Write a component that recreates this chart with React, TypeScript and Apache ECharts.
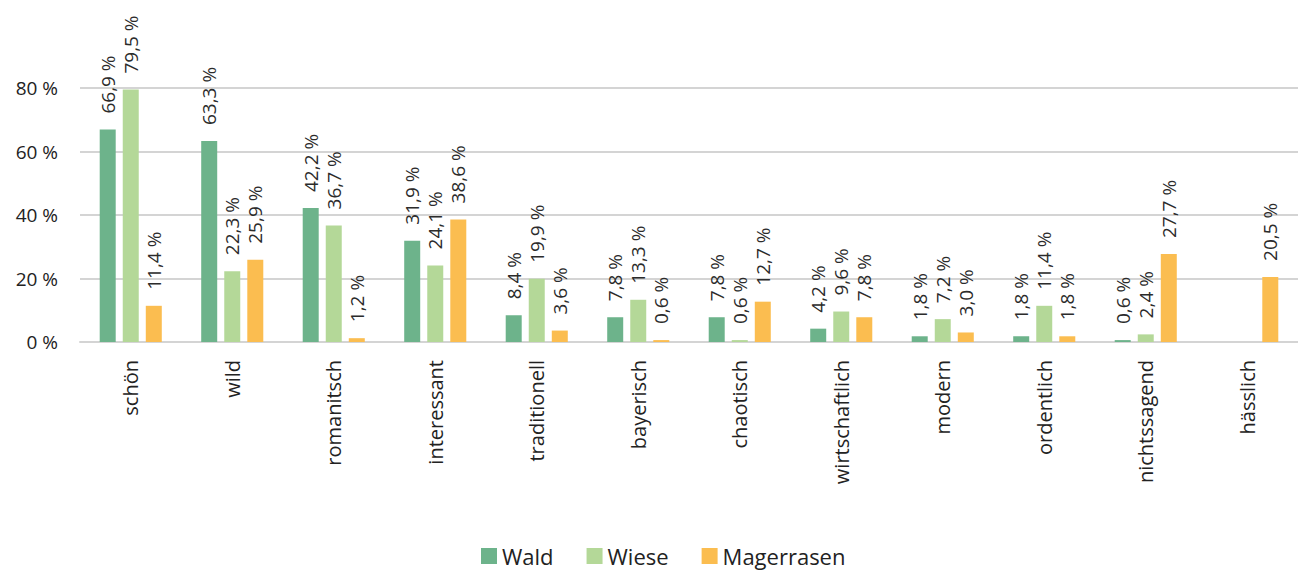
import React, { useEffect, useRef } from "react";
import * as echarts from "echarts";

const categories = [
  "schön", "wild", "romanitsch", "interessant", "traditionell", "bayerisch",
  "chaotisch", "wirtschaftlich", "modern", "ordentlich", "nichtssagend", "hässlich",
];
const wald = [66.9, 63.3, 42.2, 31.9, 8.4, 7.8, 7.8, 4.2, 1.8, 1.8, 0.6, null];
const wiese = [79.5, 22.3, 36.7, 24.1, 19.9, 13.3, 0.6, 9.6, 7.2, 11.4, 2.4, null];
const magerrasen = [11.4, 25.9, 1.2, 38.6, 3.6, 0.6, 12.7, 7.8, 3.0, 1.8, 27.7, 20.5];
const yTicks = [0, 20, 40, 60, 80];

const FONT = "'Open Sans', 'Noto Sans', sans-serif";

const fmt = (v: number) => v.toFixed(1).replace(".", ",") + " %";

export default function App() {
  const ref = useRef<HTMLDivElement>(null);
  useEffect(() => {
    if (!ref.current) return;
    const chart = echarts.init(ref.current, null, { renderer: "svg" });
    const mkSeries = (name: string, data: (number | null)[], color: string) => ({
      name,
      type: "bar",
      data,
      barWidth: 16,
      barGap: "44%",
      itemStyle: { color },
      label: {
        show: true,
        position: "top",
        rotate: 90,
        align: "left",
        verticalAlign: "middle",
        distance: 16,
        fontFamily: FONT,
        fontSize: 19,
        color: "#2b2b2b",
        formatter: (p: any) => (p.value == null ? "" : fmt(p.value)),
      },
    });
    chart.setOption({
      animation: false,
      textStyle: { fontFamily: FONT },
      grid: { left: 80, right: 0, top: 88, bottom: 230, containLabel: false },
      legend: {
        top: 545,
        left: 481,
        padding: 0,
        itemWidth: 16,
        itemHeight: 16,
        itemGap: 33,
        icon: "rect",
        textStyle: { fontFamily: FONT, fontSize: 22, color: "#222" },
        data: ["Wald", "Wiese", "Magerrasen"],
      },
      xAxis: {
        type: "category",
        data: categories,
        axisTick: { show: false },
        axisLine: { lineStyle: { color: "#d4d4d4", width: 2 } },
        axisLabel: {
          rotate: 90,
          margin: 18,
          fontFamily: FONT,
          fontSize: 20,
          color: "#222",
          interval: 0,
        },
      },
      yAxis: {
        type: "value",
        min: yTicks[0],
        max: yTicks[yTicks.length - 1],
        interval: 20,
        axisLine: { show: false },
        axisTick: { show: false },
        splitLine: { lineStyle: { color: "#d4d4d4", width: 2 } },
        axisLabel: {
          margin: 22,
          fontFamily: FONT,
          fontSize: 19,
          color: "#222",
          formatter: "{value} %",
        },
      },
      series: [
        mkSeries("Wald", wald, "#6db38b"),
        mkSeries("Wiese", wiese, "#b4d898"),
        mkSeries("Magerrasen", magerrasen, "#fbbd50"),
      ],
    });
    return () => chart.dispose();
  }, []);
  return (
    <div
      ref={ref}
      style={{ position: "absolute", left: 0, top: 0, width: 1298, height: 572, background: "#fff" }}
    />
  );
}
